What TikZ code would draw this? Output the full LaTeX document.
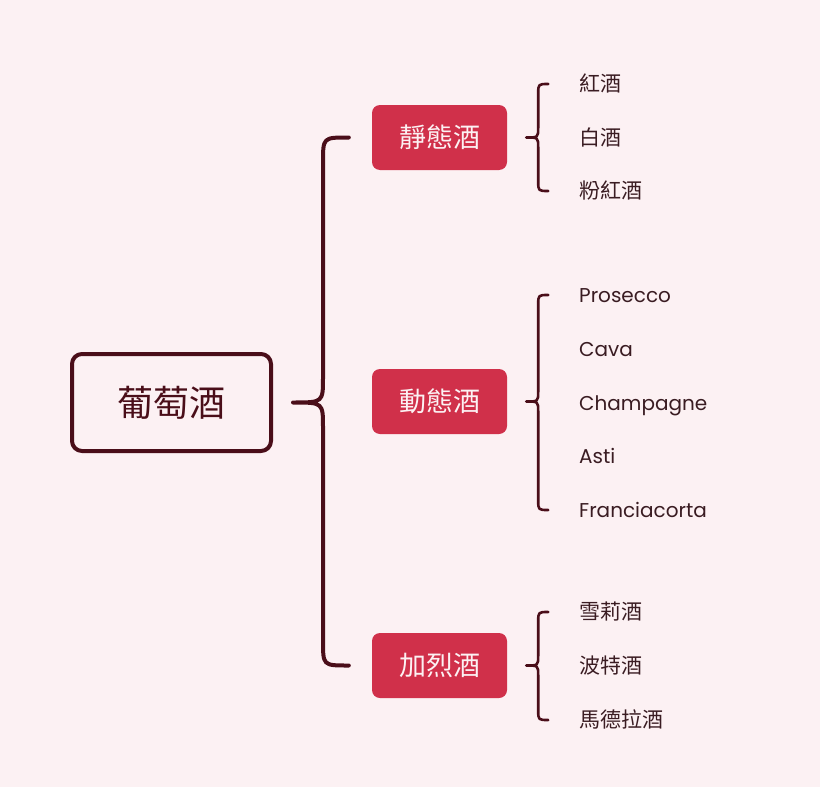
\documentclass[tikz,border=0pt]{standalone}
\usepackage{fontspec}
\setmainfont{Poppins}
\newfontfamily\cjk{Noto Sans CJK TC}
\newfontfamily\cjkleaf{Noto Sans CJK TC}[Scale=1.05]
\usetikzlibrary{positioning,calc}
\definecolor{bgpink}{HTML}{FCF1F3}
\definecolor{winedark}{HTML}{4A0E19}
\definecolor{winered}{HTML}{D0304A}
\definecolor{leafink}{HTML}{3A1C22}
% curly brace: #1 style, #2 top end, #3 tip, #4 bottom end, #5 depth, #6 radius
\newcommand\curlybrace[6]{%
  \coordinate (ba) at (#2);
  \coordinate (bb) at (#4);
  \coordinate (v) at ($(#3)+(#5,0)$);
  \draw[#1] (ba) -- ($(ba -| v)+(#6,0)$) .. controls (ba -| v) .. ($(ba -| v)+(0,#6)$)
    -- ($(v)+(0,-#6)$) .. controls (v) .. (#3)
    .. controls (v) .. ($(v)+(0,#6)$)
    -- ($(bb -| v)+(0,-#6)$) .. controls (bb -| v) .. ($(bb -| v)+(#6,0)$) -- (bb);}
\begin{document}
\begin{tikzpicture}[x=1pt, y=-1pt, line join=round, line cap=round]
\tikzset{
  root/.style={draw=winedark, line width=4pt, rounded corners=10pt,
    minimum width=199pt, minimum height=97pt, text=winedark,
    font=\cjk\fontsize{36}{40}\selectfont},
  cat/.style={fill=winered, rounded corners=8pt, minimum width=135pt,
    minimum height=65pt, text=bgpink, font=\cjk\fontsize{27}{32}\selectfont},
  leaf/.style={anchor=west, inner sep=0pt, text height=1.4em, text depth=0pt,
    text=leafink, font=\fontsize{20}{24}\selectfont},
  bigbrace/.style={draw=winedark, line width=4pt},
  smallbrace/.style={draw=winedark, line width=2.6pt}
}
\fill[bgpink] (0,0) rectangle (820,787);
\useasboundingbox (0,0) rectangle (820,787);

\node[root] (wine) at (171.5,402.5) {葡萄酒};
\node[cat] (still) at (439.5,137.5) {靜態酒};
\node[cat] (sparkling) at (439.5,401.5) {動態酒};
\node[cat] (fortified) at (439.5,665.5) {加烈酒};

\foreach \n/\y/\t in {s1/84/{\cjkleaf 紅酒}, s2/138/{\cjkleaf 白酒}, s3/191/{\cjkleaf 粉紅酒},
    p1/295/Prosecco, p2/349/Cava, p3/403/Champagne, p4/456/Asti, p5/510/Franciacorta,
    f1/612/{\cjkleaf 雪莉酒}, f2/666/{\cjkleaf 波特酒}, f3/720/{\cjkleaf 馬德拉酒}}
  \node[leaf] (\n) at (579,\y) {\t};

% braces
\coordinate (wtip) at ($(wine.east)+(20,0)$);
\curlybrace{bigbrace}{$(still.west)+(-23,0)$}{wtip}{$(fortified.west)+(-23,0)$}{30}{25}
\foreach \c/\a/\b in {still/s1/s3, sparkling/p1/p5, fortified/f1/f3}{
  \coordinate (ctip) at ($(\c.east)+(19,0)$);
  \curlybrace{smallbrace}{$(\a.west)+(-31,0)$}{ctip}{$(\b.west)+(-31,0)$}{12}{10}
}
\end{tikzpicture}
\end{document}
